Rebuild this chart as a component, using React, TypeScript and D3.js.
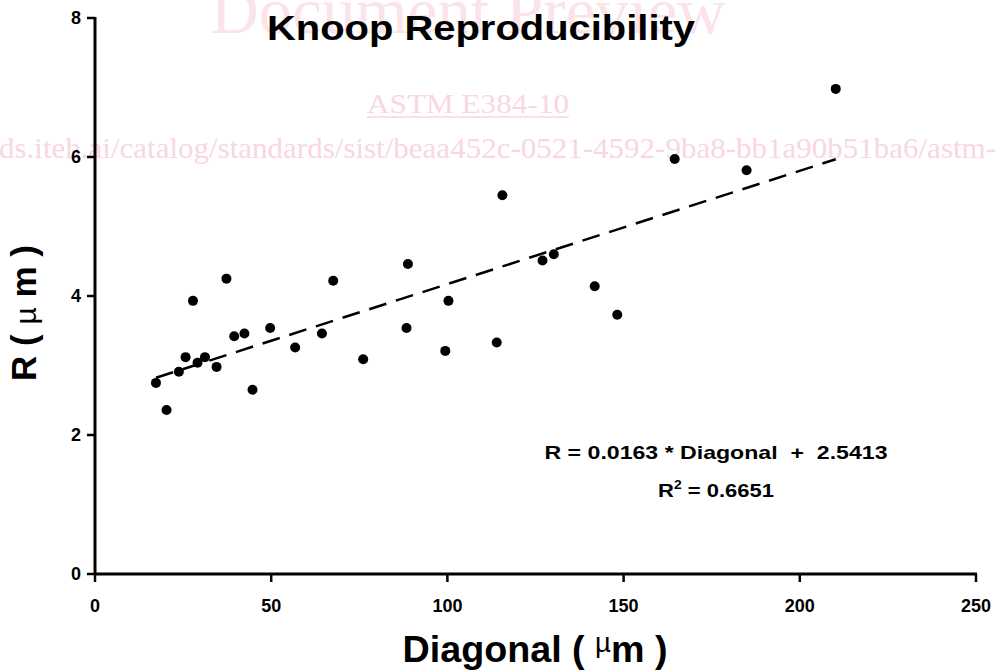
import React from "react";
import * as d3 from "d3";

const diagonal = [17.3, 20.3, 23.8, 25.7, 27.8, 29.1, 31.2, 34.5, 37.3, 39.5, 42.4, 44.7, 49.7, 56.8, 64.4, 67.6, 76.1, 88.8, 88.4, 100.3, 99.4, 115.6, 114.0, 127.0, 130.2, 141.8, 148.2, 164.5, 184.9, 210.2];
const rValues = [2.75, 2.36, 2.91, 3.12, 3.93, 3.04, 3.12, 2.98, 4.25, 3.42, 3.46, 2.65, 3.54, 3.26, 3.46, 4.22, 3.09, 4.46, 3.54, 3.93, 3.21, 5.45, 3.33, 4.51, 4.60, 4.14, 3.73, 5.97, 5.81, 6.98];
const xTicks = [0, 50, 100, 150, 200, 250];
const yTicks = [0, 2, 4, 6, 8];
const slope = 0.0163;
const intercept = 2.5413;
const titleText = "Knoop  Reproducibility";
const equationText = "R = 0.0163 * Diagonal  +  2.5413";
const r2Value = "0.6651";

const W = 997;
const H = 672;
const font = "'Liberation Sans', Arial, sans-serif";
const serif = "'Liberation Serif', 'Times New Roman', serif";
const pink = "#f9d7df";

export default function App() {
  const x = d3.scaleLinear().domain([0, 250]).range([95, 976]);
  const y = d3.scaleLinear().domain([0, 8]).range([574, 18]);
  const xMin = d3.min(diagonal) as number;
  const xMax = d3.max(diagonal) as number;
  const fit = d3
    .line<number>()
    .x((d) => x(d))
    .y((d) => y(slope * d + intercept));

  return (
    <div style={{ position: "fixed", left: 0, top: 0 }}>
      <svg width={W} height={H} style={{ display: "block", background: "#fff" }}>
        {/* watermark */}
        <text x={468} y={33} textAnchor="middle" fontFamily={serif} fontSize={66} fill="#fbe3e8" textLength={515} lengthAdjust="spacingAndGlyphs">
          Document Preview
        </text>
        <text x={468} y={113} textAnchor="middle" fontFamily={serif} fontSize={28} fill={pink} textLength={202} lengthAdjust="spacingAndGlyphs">
          ASTM E384-10
        </text>
        <line x1={367} x2={569} y1={117} y2={117} stroke={pink} strokeWidth={1.5} />
        <text x={-1} y={158} fontFamily={serif} fontSize={30} fill={pink} textLength={997} lengthAdjust="spacingAndGlyphs">
          ds.iteh.ai/catalog/standards/sist/beaa452c-0521-4592-9ba8-bb1a90b51ba6/astm-
        </text>

        {/* title */}
        <text x={481} y={40} textAnchor="middle" fontFamily={font} fontWeight="bold" fontSize={35} fill="#000" textLength={428} lengthAdjust="spacingAndGlyphs">
          {titleText}
        </text>

        {/* axes */}
        <line x1={x(0)} x2={x(0)} y1={y(8) - 1} y2={y(0) + 1} stroke="#000" strokeWidth={3} />
        <line x1={x(0) - 1} x2={x(250) + 1} y1={y(0)} y2={y(0)} stroke="#000" strokeWidth={3} />
        {xTicks.map((t) => (
          <g key={"xt" + t}>
            <line x1={x(t)} x2={x(t)} y1={y(0)} y2={y(0) + 8} stroke="#000" strokeWidth={2.5} />
            <text x={x(t)} y={612} textAnchor="middle" fontFamily={font} fontWeight="bold" fontSize={18} fill="#000">
              {t}
            </text>
          </g>
        ))}
        {yTicks.map((t) => (
          <g key={"yt" + t}>
            <line x1={x(0) - 8} x2={x(0)} y1={y(t)} y2={y(t)} stroke="#000" strokeWidth={2.5} />
            <text x={81} y={y(t) + 6} textAnchor="end" fontFamily={font} fontWeight="bold" fontSize={18} fill="#000">
              {t}
            </text>
          </g>
        ))}

        {/* axis labels */}
        <text x={535} y={662} textAnchor="middle" fontFamily={font} fontWeight="bold" fontSize={37} fill="#000" textLength={265} lengthAdjust="spacingAndGlyphs" xmlSpace="preserve" style={{ whiteSpace: "pre" }}>
          {"Diagonal ( "}
          <tspan fontWeight="normal" fontSize={27} dy={-10}>µ</tspan>
          <tspan dy={10}>{"m )"}</tspan>
        </text>
        <text transform="translate(36,313) rotate(-90)" textAnchor="middle" fontFamily={font} fontWeight="bold" fontSize={35} fill="#000" xmlSpace="preserve" style={{ whiteSpace: "pre" }}>
          {"R ( "}
          <tspan fontWeight="normal" fontSize={30}>µ</tspan>
          {" m )"}
        </text>

        {/* fit line */}
        <path d={fit([xMin, xMax]) || ""} fill="none" stroke="#000" strokeWidth={2.5} strokeDasharray="18 10" />

        {/* points */}
        {diagonal.map((d, i) => (
          <circle key={i} cx={x(d)} cy={y(rValues[i])} r={5} fill="#000" />
        ))}

        {/* equation */}
        <text x={716} y={459} textAnchor="middle" fontFamily={font} fontWeight="bold" fontSize={19} fill="#000" textLength={343} lengthAdjust="spacingAndGlyphs" xmlSpace="preserve" style={{ whiteSpace: "pre" }}>
          {equationText}
        </text>
        <text x={716} y={497} textAnchor="middle" fontFamily={font} fontWeight="bold" fontSize={19} fill="#000" textLength={116} lengthAdjust="spacingAndGlyphs">
          R<tspan fontSize={12} dy={-8}>2</tspan>
          <tspan dy={8}>{" = " + r2Value}</tspan>
        </text>
      </svg>
    </div>
  );
}
